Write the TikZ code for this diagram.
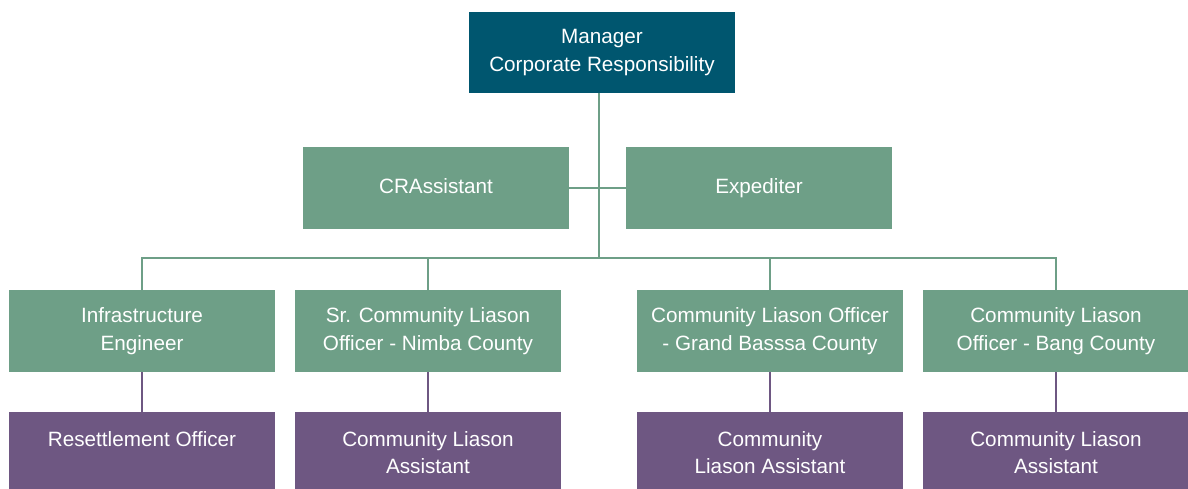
\documentclass[tikz,border=0pt]{standalone}
\usepackage{fontspec}
\setmainfont{Liberation Sans}
\definecolor{teal}{HTML}{00566F}
\definecolor{sage}{HTML}{6E9F87}
\definecolor{plum}{HTML}{6E5782}
\begin{document}
\begin{tikzpicture}[x=1pt,y=-1pt,
  box/.style={rectangle, inner sep=0pt, minimum width=266pt, text=white, align=center,
    font=\fontsize{20.7}{27.5}\selectfont},
  oneline/.style={text height=15pt, text depth=4pt},
  topbox/.style={box, fill=teal, minimum height=81pt},
  greenbox/.style={box, fill=sage, minimum height=82pt},
  purplebox/.style={box, fill=plum, minimum height=77pt},
  txt/.style={text=white, align=center, inner sep=0pt, font=\fontsize{20.7}{27}\selectfont},
  gline/.style={draw=sage, line width=2.8pt},
  pline/.style={draw=plum, line width=2.8pt}]
\useasboundingbox (0,0) rectangle (1188,489);
\node[topbox] (mgr) at (602,52.5) {Manager\\Corporate Responsibility};
\node[greenbox, oneline] (cra) at (436,188) {CRAssistant};
\node[greenbox, oneline] (exp) at (759,188) {Expediter};
\node[greenbox] (g1) at (142,331) {Infrastructure\\Engineer};
\node[greenbox] (g2) at (428,331) {Sr. Community Liason\\Officer - Nimba County};
\node[greenbox] (g3) at (770,331) {Community Liason Officer\\- Grand Basssa County};
\node[greenbox] (g4) at (1056,331) {Community Liason\\Officer - Bang County};
\node[purplebox] (p1) at (142,450.5) {};
\node[purplebox] (p2) at (428,450.5) {};
\node[purplebox] (p3) at (770,450.5) {};
\node[purplebox] (p4) at (1056,450.5) {};
\node[txt, anchor=base] (t1) at (142,446) {Resettlement Officer};
\node[txt, anchor=base] (t2) at (428,473) {Community Liason\\Assistant};
\node[txt, anchor=base] (t3) at (770,473) {Community\\Liason Assistant};
\node[txt, anchor=base] (t4) at (1056,473) {Community Liason\\Assistant};
\coordinate (bus) at (599,258);
\draw[gline] (mgr.south -| bus) -- (bus);
\draw[gline] (cra.east) -- (exp.west);
\draw[gline] (g1.north) -- (g1.north |- bus) -- (g4.north |- bus) -- (g4.north);
\draw[gline] (g2.north) -- (g2.north |- bus);
\draw[gline] (g3.north) -- (g3.north |- bus);
\draw[pline] (g1.south) -- (p1.north);
\draw[pline] (g2.south) -- (p2.north);
\draw[pline] (g3.south) -- (p3.north);
\draw[pline] (g4.south) -- (p4.north);
\end{tikzpicture}
\end{document}
